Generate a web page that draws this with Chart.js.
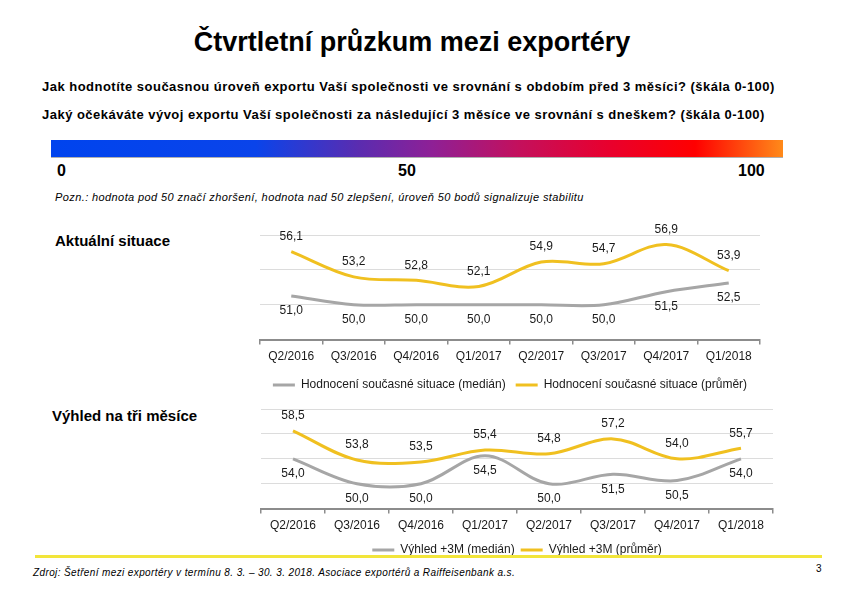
<!DOCTYPE html>
<html>
<head>
<meta charset="utf-8">
<script src="https://cdn.jsdelivr.net/npm/chart.js@4.4.1/dist/chart.umd.min.js"></script>
<style>
  body { margin: 0; background: #fff; font-family: "Liberation Sans", Arial, sans-serif; color: #000; }
  #page { position: relative; width: 842px; height: 595px; overflow: hidden; }
  .t { position: absolute; white-space: nowrap; line-height: 1; }
  .box { position: absolute; }
</style>
</head>
<body>
<div id="page">
  <div class="t" style="left:0; width:824px; text-align:center; top:29px; font-size:27px; font-weight:bold;">Čtvrtletní průzkum mezi exportéry</div>
  <div class="t" style="left:42px; top:80px; font-size:13px; font-weight:bold; letter-spacing:0.48px;">Jak hodnotíte současnou úroveň exportu Vaší společnosti ve srovnání s obdobím před 3 měsíci? (škála 0-100)</div>
  <div class="t" style="left:42px; top:108px; font-size:13px; font-weight:bold; letter-spacing:0.48px;">Jaký očekáváte vývoj exportu Vaší společnosti za následující 3 měsíce ve srovnání s dneškem? (škála 0-100)</div>

  <div class="box" style="left:51px; top:140px; width:732px; height:17px; background: linear-gradient(to right, #0044ee 0%, #0a44ea 28%, #5a2cb0 42%, #8e2096 52%, #c4105c 64%, #e8002e 76%, #ff0000 88%, #ff8a1a 100%); border-bottom:1px solid #b0b0b0;"></div>
  <div class="t" style="left:57px; top:163px; font-size:16px; font-weight:bold;">0</div>
  <div class="t" style="left:398px; top:163px; font-size:16px; font-weight:bold;">50</div>
  <div class="t" style="left:738px; top:163px; font-size:16px; font-weight:bold;">100</div>
  <div class="t" style="left:55px; top:192px; font-size:11px; font-style:italic; letter-spacing:0.4px;">Pozn.: hodnota pod 50 značí zhoršení, hodnota nad 50 zlepšení, úroveň 50 bodů signalizuje stabilitu</div>

  <div class="t" style="left:55px; top:233px; font-size:15px; font-weight:bold;">Aktuální situace</div>
  <div class="t" style="left:52px; top:408px; font-size:15px; font-weight:bold;">Výhled na tři měsíce</div>

  <div class="box" style="left:250px; top:215px; width:520px; height:186px;"><canvas id="currentChart"></canvas></div>
  <div class="box" style="left:251px; top:389px; width:532px; height:177px;"><canvas id="outlookChart"></canvas></div>

  <div class="box" style="left:35px; top:555px; width:787px; height:3px; background:#f2e53a;"></div>
  <div class="t" style="left:33px; top:568px; font-size:10px; font-style:italic; letter-spacing:0.38px;">Zdroj: Šetření mezi exportéry v termínu 8. 3. – 30. 3. 2018. Asociace exportérů a Raiffeisenbank a.s.</div>
  <div class="t" style="left:816px; top:564px; font-size:10px;">3</div>
</div>

<script>
const quarters = ['Q2/2016', 'Q3/2016', 'Q4/2016', 'Q1/2017', 'Q2/2017', 'Q3/2017', 'Q4/2017', 'Q1/2018'];

const currentMedian = [51.0, 50.0, 50.0, 50.0, 50.0, 50.0, 51.5, 52.5];
const currentMean = [56.1, 53.2, 52.8, 52.1, 54.9, 54.7, 56.9, 53.9];

const outlookMedian = [54.0, 50.0, 50.0, 54.5, 50.0, 51.5, 50.5, 54.0];
const outlookMean = [58.5, 53.8, 53.5, 55.4, 54.8, 57.2, 54.0, 55.7];

const colors = {
    mean: '#f0c020',
    median: '#a6a6a6',
    grid: '#dcdcdc',
    axis: '#8c8c8c',
    text: '#1a1a1a',
};

Chart.defaults.font.family = '"Liberation Sans", Arial, sans-serif';
Chart.defaults.color = colors.text;

// value labels: above for the mean line, below for the median line
const valueLabels = {
    id: 'valueLabels',
    afterDatasetsDraw(chart) {
        const ctx = chart.ctx;
        ctx.save();
        ctx.font = '12px "Liberation Sans", Arial, sans-serif';
        ctx.fillStyle = colors.text;
        ctx.textAlign = 'center';
        ctx.textBaseline = 'middle';
        chart.data.datasets.forEach((ds, i) => {
            const off = ds.labelSide === 'below' ? 15 : -15;
            chart.getDatasetMeta(i).data.forEach((pt, j) => {
                ctx.fillText(ds.data[j].toFixed(1).replace('.', ','), pt.x, pt.y + off);
            });
        });
        ctx.restore();
    }
};

function makeChart(id, medianLabel, meanLabel, median, mean, yMax, legendPad) {
    return new Chart(document.getElementById(id).getContext('2d'), {
        type: 'line',
        data: {
            labels: quarters,
            datasets: [
                {
                    label: medianLabel,
                    data: median,
                    borderColor: colors.median,
                    borderWidth: 3,
                    tension: 0.35,
                    pointRadius: 0,
                    labelSide: 'below',
                },
                {
                    label: meanLabel,
                    data: mean,
                    borderColor: colors.mean,
                    borderWidth: 3,
                    tension: 0.35,
                    pointRadius: 0,
                    labelSide: 'above',
                }
            ]
        },
        options: {
            responsive: true,
            maintainAspectRatio: false,
            animation: false,
            layout: { padding: { left: 10, right: 10, top: 20, bottom: 0 } },
            scales: {
                x: {
                    offset: true,
                    grid: {
                        offset: true,
                        drawOnChartArea: false,
                        color: colors.axis,
                        lineWidth: 1.5,
                        tickLength: 5
                    },
                    border: { color: colors.axis, width: 2 },
                    ticks: {
                        font: { size: 12 },
                        padding: 5,
                        maxRotation: 0,
                        autoSkip: false
                    }
                },
                y: {
                    min: 46,
                    max: yMax,
                    ticks: { display: false, stepSize: 4 },
                    border: { display: false },
                    grid: { color: colors.grid, drawTicks: false }
                }
            },
            plugins: {
                legend: {
                    position: 'bottom',
                    labels: {
                        usePointStyle: true,
                        pointStyle: 'line',
                        pointStyleWidth: 22,
                        padding: legendPad,
                        font: { size: 12 }
                    }
                },
                tooltip: { enabled: false }
            }
        },
        plugins: [valueLabels]
    });
}

makeChart('currentChart', 'Hodnocení současné situace (medián)', 'Hodnocení současné situace (průměr)', currentMedian, currentMean, 58, 10);
makeChart('outlookChart', 'Výhled +3M (medián)', 'Výhled +3M (průměr)', outlookMedian, outlookMean, 62, 6);
</script>
</body>
</html>
